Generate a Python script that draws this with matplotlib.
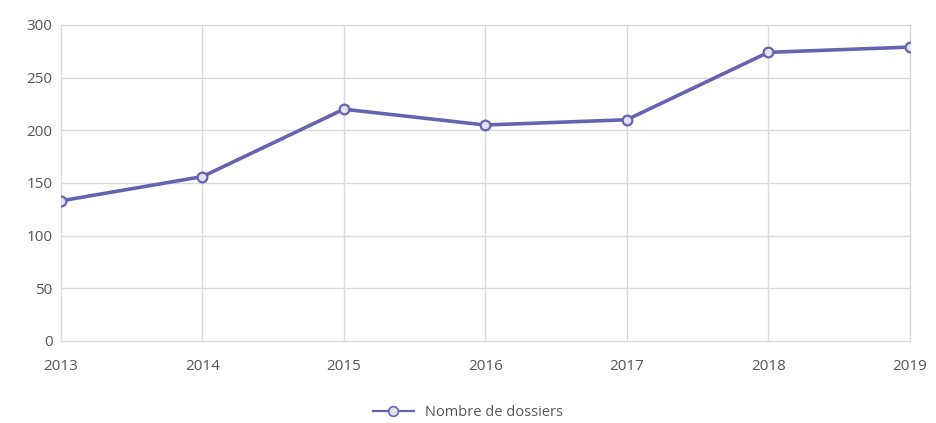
import matplotlib.pyplot as plt

years = [2013, 2014, 2015, 2016, 2017, 2018, 2019]
dossiers = [133, 156, 220, 205, 210, 274, 279]
y_ticks = [0, 50, 100, 150, 200, 250, 300]

plt.rcParams['font.family'] = ['Open Sans', 'DejaVu Sans']

fig = plt.figure(figsize=(9.36, 4.23), dpi=100)
ax = fig.add_axes([0.065, 0.194, 0.907, 0.747])

ax.plot(years, dossiers, color='#6464b0', linewidth=2.6, marker='o',
        markersize=7, markerfacecolor='#e2e2f4', markeredgecolor='#6464b0',
        markeredgewidth=1.6, zorder=3)
# legend handle: thinner line, as in the original
ax.plot([], [], color='#6464b0', linewidth=1.6, marker='o', markersize=7,
        markerfacecolor='#e2e2f4', markeredgecolor='#6464b0',
        markeredgewidth=1.2, label='Nombre de dossiers')

ax.set_xlim(2013, 2019)
ax.set_ylim(0, 300)
ax.set_xticks(years)
ax.set_yticks(y_ticks)
ax.grid(True, color='#d9d9d9', linewidth=1)
for line in ax.get_xgridlines() + ax.get_ygridlines():
    line.set_clip_on(False)
for s in ax.spines.values():
    s.set_visible(False)
ax.tick_params(length=0, colors='#555555', labelsize=11)
ax.tick_params(axis='x', pad=13)
ax.tick_params(axis='y', pad=6)

leg = fig.legend(loc='lower center', bbox_to_anchor=(0.5, -0.025), frameon=False,
                 fontsize=10.5, handlelength=2.8)
for t in leg.get_texts():
    t.set_color('#555555')

fig.savefig('out.png', dpi=100)
